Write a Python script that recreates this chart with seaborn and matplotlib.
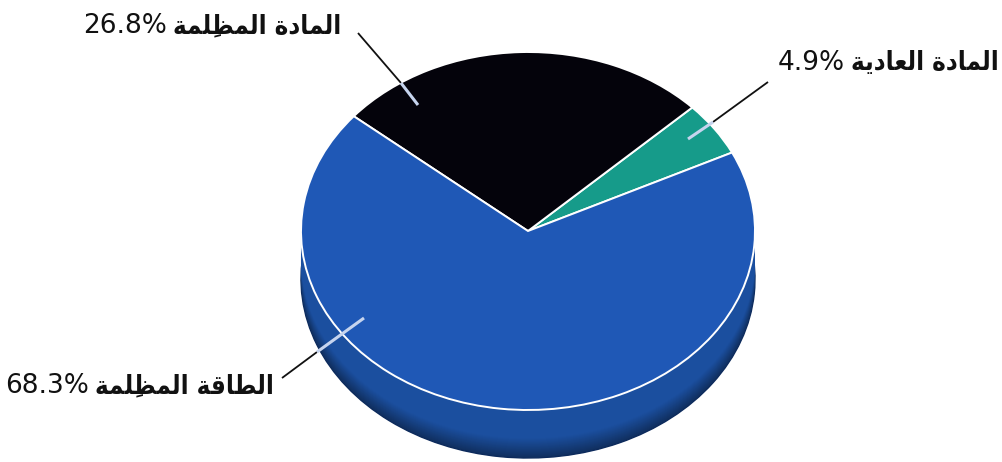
import numpy as np
import matplotlib
matplotlib.use("Agg")
import matplotlib.pyplot as plt
import matplotlib.colors as mcolors
import seaborn as sns

# ---- data ----
components = ["المادة العادية", "المادة المظلِمة", "الطاقة المظلِمة"]
shares = [4.9, 26.8, 68.3]
top_colors = ["#169b8a", "#04030b", "#1f58b6"]
side_colors = ["#0f7566", "#000000", "#1b4f9f"]

# Arabic presentation forms: (isolated, final, initial, medial)
AR_FORMS = {
    "ا": ("\ufe8d", "\ufe8e", None, None),
    "د": ("\ufea9", "\ufeaa", None, None),
    "ة": ("\ufe93", "\ufe94", None, None),
    "ل": ("\ufedd", "\ufede", "\ufedf", "\ufee0"),
    "م": ("\ufee1", "\ufee2", "\ufee3", "\ufee4"),
    "ظ": ("\ufec5", "\ufec6", "\ufec7", "\ufec8"),
    "ع": ("\ufec9", "\ufeca", "\ufecb", "\ufecc"),
    "ي": ("\ufef1", "\ufef2", "\ufef3", "\ufef4"),
    "ط": ("\ufec1", "\ufec2", "\ufec3", "\ufec4"),
    "ق": ("\ufed5", "\ufed6", "\ufed7", "\ufed8"),
}
MARKS = {"\u0650"}


def shape_arabic(s):
    # join letters and put them in visual (left-to-right) order
    clusters = []
    for c in s:
        if c in MARKS and clusters:
            clusters[-1] += c
        else:
            clusters.append(c)
    shaped = []
    for k, cl in enumerate(clusters):
        base = cl[0]
        if base not in AR_FORMS:
            shaped.append(cl)
            continue
        prev = clusters[k - 1][0] if k > 0 else None
        nxt = clusters[k + 1][0] if k + 1 < len(clusters) else None
        joins_prev = prev in AR_FORMS and AR_FORMS[prev][2] is not None
        joins_next = AR_FORMS[base][2] is not None and nxt in AR_FORMS
        iso, fin, ini, med = AR_FORMS[base]
        if joins_prev and joins_next:
            g = med
        elif joins_prev:
            g = fin
        elif joins_next:
            g = ini
        else:
            g = iso
        shaped.append(g + cl[1:])
    return "".join(reversed(shaped))


sns.set_theme(style="white")
plt.rcParams["font.family"] = ["DejaVu Sans"]

W, H = 1003, 462
fig = plt.figure(figsize=(W / 100, H / 100), dpi=100)
ax = fig.add_axes([0, 0, 1, 1])

# pixel geometry of the pie
cx, cy, rx, ry = 528, 231, 227, 179
xmin, xmax = -cx / rx, (W - cx) / rx
ymin, ymax = -(H - cy) / ry, cy / ry


def px(x, y):
    return xmin + x / W * (xmax - xmin), ymax - y / H * (ymax - ymin)


# side of the disc: stacked layers, darker towards the bottom rim
depth = 48 / ry
n_layers = 48
for k, off in enumerate(np.linspace(depth, 0.0, n_layers)):
    t = k / (n_layers - 1)
    shade = 0.6 + 0.4 * min(1.0, t / 0.4)
    cols = [tuple(np.array(mcolors.to_rgb(c)) * shade) for c in side_colors]
    ax.pie(shares, colors=cols, startangle=26, counterclock=True,
           center=(0, -off),
           wedgeprops=dict(linewidth=1.0 if k == 0 else 0,
                           edgecolor="#0c2a5c"))

# top face
ax.pie(shares, colors=top_colors, startangle=26, counterclock=True,
       wedgeprops=dict(edgecolor="white", linewidth=1.4))

ax.set_aspect("auto")
ax.set_xlim(xmin, xmax)
ax.set_ylim(ymin, ymax)
ax.axis("off")

# leader lines: (label end, rim point, inner end) in pixels
leaders = [
    [(768, 82), (713, 122), (688, 139)],
    [(358, 33), (401, 83), (418, 105)],
    [(282, 378), (317, 352), (364, 318)],
]
for outer, rim, inner in leaders:
    p0, p1, p2 = px(*outer), px(*rim), px(*inner)
    ax.plot([p0[0], p1[0]], [p0[1], p1[1]], color="#111111", lw=1.3,
            solid_capstyle="butt")
    ax.plot([p1[0], p2[0]], [p1[1], p2[1]], color="#c6d4ee", lw=2.2,
            solid_capstyle="butt")

# labels: Arabic name (bold) right-anchored, percentage to its left
label_anchor = [(999, 63), (341, 26), (274, 386)]
for name, val, (x, y) in zip(components, shares, label_anchor):
    ar = fig.text(x / W, 1 - y / H, shape_arabic(name), ha="right",
                  va="center", fontsize=18.5, fontweight="bold",
                  fontstretch="condensed", color="#111111")
    fig.canvas.draw()
    bb = ar.get_window_extent()
    fig.text((bb.x0 - 6) / W, 1 - y / H, f"{val}%", ha="right",
             va="center", fontsize=19, color="#111111")

fig.savefig("out.png", dpi=100, facecolor="white")
